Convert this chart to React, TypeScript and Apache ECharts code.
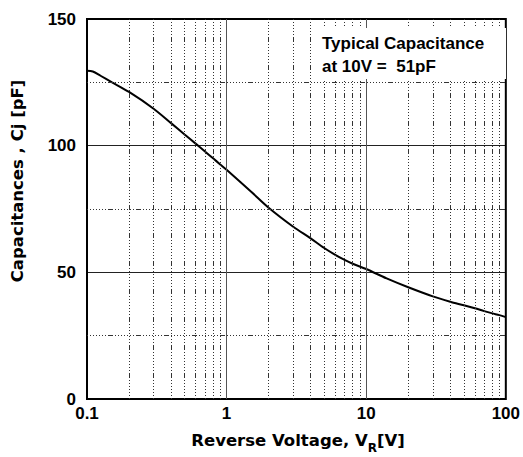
import React, { useEffect, useRef } from "react";
import * as echarts from "echarts";

const voltage = [0.1, 0.11, 0.125, 0.15, 0.2, 0.3, 0.4, 0.5, 0.6, 0.7, 0.8, 0.9, 1, 1.5, 2, 3, 4, 5, 6, 7, 8, 10, 14, 20, 30, 40, 50, 60, 70, 80, 90, 100];
const capacitance = [129.6, 129.3, 127.6, 125.1, 121.2, 114.6, 108.9, 104.4, 100.8, 97.7, 95.0, 92.6, 90.5, 81.8, 75.5, 68, 63.4, 59.6, 56.9, 54.9, 53.4, 51.3, 47.6, 44.1, 40.5, 38.4, 37.0, 35.8, 34.7, 33.8, 33.1, 32.3];
const minorX = [0.2, 0.3, 0.4, 0.5, 0.6, 0.7, 0.8, 0.9, 2, 3, 4, 5, 6, 7, 8, 9, 20, 30, 40, 50, 60, 70, 80, 90];
const majorX = [1, 10];
const minorY = [25, 75, 125];
const xTickLabels: Record<string, string> = { "0.1": "0.1", "1": "1", "10": "10", "100": "100" };
const yTickLabels = ["0", "50", "100", "150"];
const annotationLines = ["Typical Capacitance", "at 10V =  51pF"];

const FONT = "'Liberation Sans', Arial, Helvetica, sans-serif";
const WIDE = "'DejaVu Sans', 'Liberation Sans', sans-serif";
const dotted = [1, 2, 1, 2, 1, 2, 1, 2, 1, 2, 1, 2, 1, 2, 5, 2];

export default function App() {
  const ref = useRef<HTMLDivElement>(null);
  useEffect(() => {
    if (!ref.current) return;
    const chart = echarts.init(ref.current, undefined, { renderer: "svg" });
    const lineData = voltage.map((v, i) => [v, capacitance[i]]);
    chart.setOption({
      animation: false,
      backgroundColor: "#fff",
      grid: { left: 87, top: 19, width: 420, height: 380, show: true, borderColor: "#000", borderWidth: 2, backgroundColor: "transparent", z: 5 },
      xAxis: {
        type: "log",
        logBase: 10,
        min: 0.1,
        max: 100,
        axisLine: { show: false },
        axisTick: { show: false },
        splitLine: { show: false },
        axisLabel: {
          margin: 6,
          color: "#000",
          fontSize: 17,
          fontWeight: "bold",
          fontFamily: FONT,
          formatter: (v: number) => xTickLabels[String(v)] ?? String(v),
        },
      },
      yAxis: {
        type: "value",
        min: 0,
        max: 150,
        interval: 50,
        axisLine: { show: false },
        axisTick: { show: false },
        splitLine: { show: true, lineStyle: { color: "#222", width: 1, type: "solid" } },
        axisLabel: {
          margin: 11,
          color: "#000",
          fontSize: 17,
          fontWeight: "bold",
          fontFamily: FONT,
          formatter: (v: number) => yTickLabels[Math.round(v / 50)] ?? String(v),
        },
      },
      series: [
        {
          type: "line",
          data: [],
          z: 1,
          silent: true,
          markLine: {
            silent: true,
            symbol: "none",
            label: { show: false },
            animation: false,
            data: [
              ...minorX.map((v) => ({ xAxis: v, lineStyle: { color: "#333", width: 1, type: dotted } })),
              ...majorX.map((v) => ({ xAxis: v, lineStyle: { color: "#555", width: 1, type: "solid" } })),
              ...minorY.map((v) => ({ yAxis: v, lineStyle: { color: "#333", width: 1, type: dotted } })),
            ],
          },
        },
        {
          type: "line",
          data: lineData,
          z: 3,
          smooth: 0.3,
          showSymbol: false,
          lineStyle: { color: "#000", width: 2 },
        },
      ],
      graphic: [
        { type: "rect", z: 10, shape: { x: 314, y: 28, width: 192, height: 51 }, style: { fill: "#fff" } },
        { type: "text", z: 11, x: 322, y: 43, style: { text: annotationLines[0], fontSize: 17, fontWeight: "bold", fontFamily: FONT, fill: "#000", verticalAlign: "middle", align: "left" } },
        { type: "text", z: 11, x: 322, y: 66, style: { text: annotationLines[1], fontSize: 17, fontWeight: "bold", fontFamily: FONT, fill: "#000", verticalAlign: "middle", align: "left" } },
        {
          type: "text",
          z: 11,
          x: 17.5,
          y: 181,
          rotation: Math.PI / 2,
          style: { text: "Capacitances , Cj [pF]", fontSize: 16.5, fontWeight: "bold", fontFamily: WIDE, fill: "#000", align: "center", verticalAlign: "middle" },
        },
        {
          type: "text",
          z: 11,
          x: 298,
          y: 440,
          style: {
            text: "{a|Reverse Voltage, V}{s|R}{a|[V]}",
            align: "center",
            verticalAlign: "middle",
            rich: {
              a: { fontSize: 16.5, fontWeight: "bold", fontFamily: WIDE, fill: "#000", lineHeight: 28, verticalAlign: "middle" },
              s: { fontSize: 12, fontWeight: "bold", fontFamily: WIDE, fill: "#000", lineHeight: 10, verticalAlign: "bottom" },
            },
          },
        },
      ],
    });
    return () => chart.dispose();
  }, []);
  return <div ref={ref} style={{ position: "fixed", left: 0, top: 0, width: 523, height: 457 }} />;
}
